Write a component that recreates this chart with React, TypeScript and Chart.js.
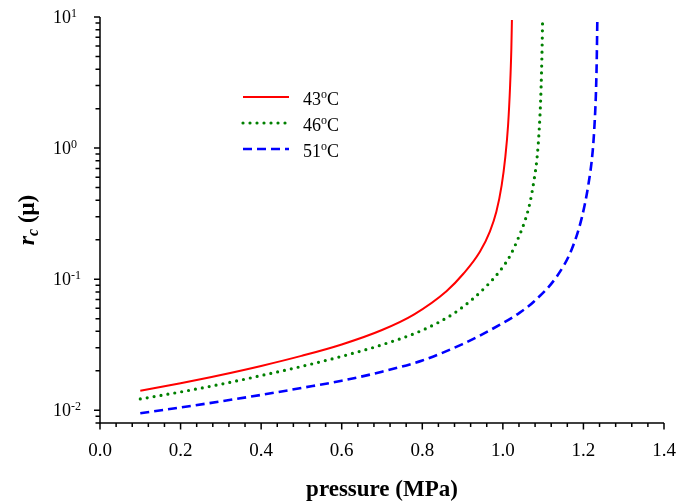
import React, { useEffect, useRef } from "react";
import { Chart, registerables } from "chart.js";

Chart.register(...registerables);

// ---------------- data ----------------
const temperatures = ["43", "46", "51"];
const lineColors = ["#ff0000", "#008000", "#0000ff"];

const pressure43 = [0.1, 0.2, 0.3, 0.4, 0.5, 0.6, 0.7, 0.78, 0.86, 0.902, 0.943, 0.968, 0.984, 0.997, 1.006, 1.013, 1.018, 1.021, 1.0225];
const radius43 = [0.0141, 0.0161, 0.0186, 0.0218, 0.026, 0.0318, 0.041, 0.054, 0.081, 0.11, 0.162, 0.232, 0.328, 0.52, 0.85, 1.5, 3.0, 5.6, 9.5];

const pressure46 = [0.1, 0.2, 0.3, 0.4, 0.5, 0.6, 0.7, 0.8, 0.877, 0.927, 0.96, 0.993, 1.018, 1.038, 1.055, 1.067, 1.077, 1.085, 1.09, 1.094, 1.096, 1.0975, 1.0985];
const radius46 = [0.0122, 0.0138, 0.0158, 0.0184, 0.0216, 0.0258, 0.0316, 0.0408, 0.0545, 0.0715, 0.089, 0.116, 0.151, 0.205, 0.28, 0.38, 0.56, 0.85, 1.35, 2.4, 3.8, 6.0, 9.0];

const pressure51 = [0.1, 0.2, 0.3, 0.4, 0.5, 0.6, 0.7, 0.8, 0.9, 0.993, 1.042, 1.076, 1.134, 1.171, 1.196, 1.212, 1.223, 1.228, 1.231, 1.233, 1.2345];
const radius51 = [0.0095, 0.0105, 0.0117, 0.0131, 0.0148, 0.0168, 0.0197, 0.024, 0.032, 0.045, 0.0556, 0.067, 0.105, 0.169, 0.295, 0.52, 0.95, 1.6, 2.6, 4.6, 9.5];

const xMajorTicks = [0, 0.2, 0.4, 0.6, 0.8, 1.0, 1.2, 1.4];
const xTickLabels = ["0.0", "0.2", "0.4", "0.6", "0.8", "1.0", "1.2", "1.4"];
const xMinorPerMajor = 5;
const yDecades = [0.01, 0.1, 1, 10];
const yExponents = ["-2", "-1", "0", "1"];
const yMinorMultipliers = [2, 3, 4, 5, 6, 7, 8, 9];
const yMin = 0.008;
const yMax = 10;
const xMin = 0;
const xMax = 1.4;
const xTitle = "pressure (MPa)";

const SERIF = "'Liberation Serif', 'Times New Roman', serif";

function toPoints(xs: number[], ys: number[]) {
  return xs.map((x, i) => ({ x, y: ys[i] }));
}

function yMinorTicks(): number[] {
  const out: number[] = [];
  const decades = [yDecades[0] / 10, ...yDecades];
  decades.forEach((d) => {
    yMinorMultipliers.forEach((m) => {
      const v = m * d;
      if (v >= yMin - 1e-12 && v <= yMax + 1e-12) out.push(v);
    });
  });
  return out;
}

const decorPlugin = {
  id: "decor",
  afterDraw(chart: any) {
    const ctx: CanvasRenderingContext2D = chart.ctx;
    const xs = chart.scales.x;
    const ys = chart.scales.y;
    const area = chart.chartArea;
    ctx.save();
    ctx.strokeStyle = "#000";
    ctx.fillStyle = "#000";
    ctx.lineWidth = 1.5;
    // axes
    ctx.beginPath();
    ctx.moveTo(area.left, area.top);
    ctx.lineTo(area.left, area.bottom);
    ctx.lineTo(area.right, area.bottom);
    ctx.stroke();

    // x ticks
    ctx.beginPath();
    for (let i = 0; i < xMajorTicks.length; i++) {
      const px = xs.getPixelForValue(xMajorTicks[i]);
      ctx.moveTo(px, area.bottom);
      ctx.lineTo(px, area.bottom + 6.5);
      if (i < xMajorTicks.length - 1) {
        const step = (xMajorTicks[i + 1] - xMajorTicks[i]) / xMinorPerMajor;
        for (let k = 1; k < xMinorPerMajor; k++) {
          const mx = xs.getPixelForValue(xMajorTicks[i] + k * step);
          ctx.moveTo(mx, area.bottom);
          ctx.lineTo(mx, area.bottom + 4);
        }
      }
    }
    // y ticks
    yDecades.forEach((v) => {
      const py = ys.getPixelForValue(v);
      ctx.moveTo(area.left, py);
      ctx.lineTo(area.left - 6, py);
    });
    yMinorTicks().forEach((v) => {
      const py = ys.getPixelForValue(v);
      ctx.moveTo(area.left, py);
      ctx.lineTo(area.left - 4.5, py);
    });
    ctx.stroke();

    // x tick labels
    ctx.font = `19px ${SERIF}`;
    ctx.textAlign = "center";
    ctx.textBaseline = "middle";
    xMajorTicks.forEach((v, i) => {
      ctx.fillText(xTickLabels[i], xs.getPixelForValue(v), area.bottom + 28);
    });

    // y tick labels: 10 with superscript exponent
    yDecades.forEach((v, i) => {
      const py = ys.getPixelForValue(v);
      ctx.font = `18px ${SERIF}`;
      ctx.textAlign = "left";
      ctx.textBaseline = "alphabetic";
      const baseX = area.left - 47;
      ctx.fillText("10", baseX, py + 6);
      const w = ctx.measureText("10").width;
      ctx.font = `12px ${SERIF}`;
      ctx.fillText(yExponents[i], baseX + w, py - 0.5);
    });

    // x title
    ctx.font = `bold 23px ${SERIF}`;
    ctx.textAlign = "center";
    ctx.textBaseline = "alphabetic";
    ctx.fillText(xTitle, (area.left + area.right) / 2, 496);

    // y title (rotated): r_c (μ)
    ctx.save();
    const cy = (area.top + area.bottom) / 2;
    ctx.translate(34, cy);
    ctx.rotate(-Math.PI / 2);
    const fR = `italic bold 24px ${SERIF}`;
    const fC = `italic bold 16px ${SERIF}`;
    const fRest = `bold 23px ${SERIF}`;
    ctx.font = fR;
    const wR = ctx.measureText("r").width;
    ctx.font = fC;
    const wC = ctx.measureText("c").width;
    ctx.font = fRest;
    const rest = " (\u03bc)";
    const wRest = ctx.measureText(rest).width;
    const total = wR + wC + wRest;
    let tx = -total / 2;
    ctx.textAlign = "left";
    ctx.textBaseline = "alphabetic";
    ctx.font = fR;
    ctx.fillText("r", tx, 0);
    tx += wR;
    ctx.font = fC;
    ctx.fillText("c", tx, 4);
    tx += wC;
    ctx.font = fRest;
    ctx.fillText(rest, tx, 0);
    ctx.restore();

    // legend
    chart.data.datasets.forEach((ds: any, i: number) => {
      const ly = 97 + i * 26;
      ctx.save();
      ctx.strokeStyle = ds.borderColor;
      ctx.lineWidth = ds.borderWidth;
      ctx.lineCap = ds.borderCapStyle || "butt";
      ctx.setLineDash(ds.borderDash || []);
      ctx.beginPath();
      ctx.moveTo(243, ly);
      ctx.lineTo(289, ly);
      ctx.stroke();
      ctx.restore();
      ctx.fillStyle = "#000";
      ctx.textAlign = "left";
      ctx.textBaseline = "alphabetic";
      ctx.font = `18px ${SERIF}`;
      let lx = 303;
      ctx.fillText(temperatures[i], lx, ly + 8);
      lx += ctx.measureText(temperatures[i]).width;
      ctx.font = `12px ${SERIF}`;
      ctx.fillText("o", lx, ly + 1);
      lx += ctx.measureText("o").width;
      ctx.font = `18px ${SERIF}`;
      ctx.fillText("C", lx, ly + 8);
    });
    ctx.restore();
  },
};

export default function App() {
  const ref = useRef<HTMLCanvasElement | null>(null);
  useEffect(() => {
    if (!ref.current) return;
    const chart = new Chart(ref.current, {
      type: "line",
      data: {
        datasets: [
          {
            label: temperatures[0] + "\u00b0C",
            data: toPoints(pressure43, radius43),
            borderColor: lineColors[0],
            borderWidth: 2,
            cubicInterpolationMode: "monotone",
            pointRadius: 0,
            fill: false,
          },
          {
            label: temperatures[1] + "\u00b0C",
            data: toPoints(pressure46, radius46),
            borderColor: lineColors[1],
            borderWidth: 3.2,
            borderDash: [0, 7],
            borderCapStyle: "round",
            cubicInterpolationMode: "monotone",
            pointRadius: 0,
            fill: false,
          },
          {
            label: temperatures[2] + "\u00b0C",
            data: toPoints(pressure51, radius51),
            borderColor: lineColors[2],
            borderWidth: 2.6,
            borderDash: [9, 5],
            cubicInterpolationMode: "monotone",
            pointRadius: 0,
            fill: false,
          },
        ] as any,
      },
      options: {
        animation: false,
        responsive: false,
        maintainAspectRatio: false,
        layout: { padding: { top: 17, right: 28, left: 0, bottom: 0 } },
        plugins: { legend: { display: false }, tooltip: { enabled: false } },
        scales: {
          x: {
            type: "linear",
            min: xMin,
            max: xMax,
            grid: { display: false },
            border: { display: false },
            ticks: { display: false },
            afterFit: (s: any) => {
              s.height = 80;
            },
          },
          y: {
            type: "logarithmic",
            min: yMin,
            max: yMax,
            grid: { display: false },
            border: { display: false },
            ticks: { display: false },
            afterFit: (s: any) => {
              s.width = 100;
            },
          },
        },
      } as any,
      plugins: [decorPlugin],
    });
    return () => chart.destroy();
  }, []);
  return (
    <div style={{ position: "fixed", left: 0, top: 0, width: 692, height: 503, background: "#fff" }}>
      <canvas ref={ref} width={692} height={503} />
    </div>
  );
}
